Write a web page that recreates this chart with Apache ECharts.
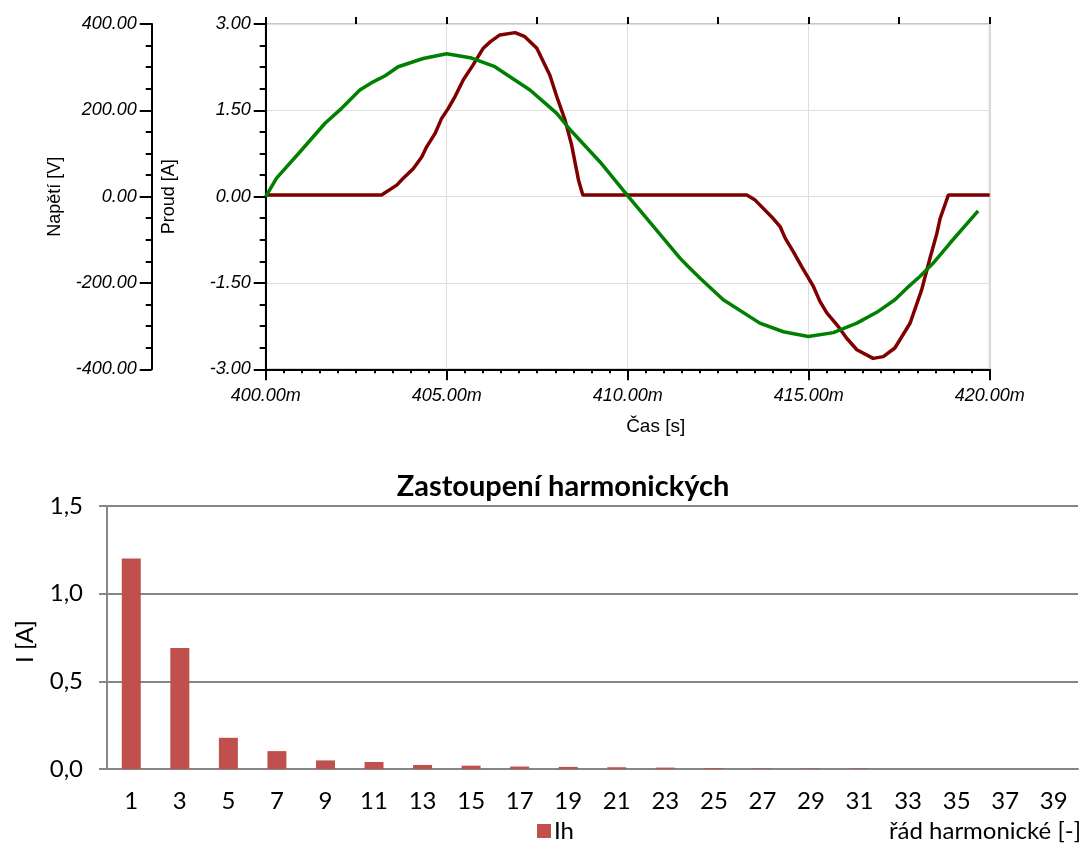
<!DOCTYPE html>
<html>
<head>
<meta charset="utf-8">
<script src="https://cdn.jsdelivr.net/npm/echarts@6/dist/echarts.min.js"></script>
<style>
  html, body { margin: 0; padding: 0; background: #fff; }
  #chart { width: 1085px; height: 843px; }
</style>
</head>
<body>
<div id="chart"></div>
<script>
// Time samples [ms] and supply voltage [V]
const voltTime = [400.0, 400.30, 400.95, 401.64, 402.05, 402.60, 402.97, 403.30, 403.66, 404.35,
  405.0, 405.69, 406.33, 407.30, 407.67, 408.04, 408.41, 409.23, 410.02, 411.45, 411.67, 412.0,
  412.64, 413.65, 414.30, 414.99, 415.68, 416.33, 416.88, 417.38, 417.71, 418.07, 418.44,
  418.90, 419.68];
const voltValues = [0, 43, 104, 170, 201, 247, 266, 280, 301, 320,
  331, 321, 301, 247, 220, 193, 155, 81, 0, -143, -162, -189,
  -239, -293, -313, -324, -315, -293, -268, -239, -212, -185, -154,
  -108, -33];

// Time samples [ms] and load current [A]
const currTime = [400.0, 403.20, 403.62, 403.80, 404.08, 404.31, 404.45, 404.68, 404.86, 405.04,
  405.23, 405.46, 405.73, 406.01, 406.20, 406.47, 406.89, 407.16, 407.49, 407.85, 408.04,
  408.27, 408.45, 408.64, 408.76, 413.29, 413.52, 414.02, 414.21, 414.35, 414.57, 414.81,
  415.13, 415.31, 415.50, 415.82, 416.05, 416.33, 416.78, 417.06, 417.38, 417.80, 418.12,
  418.35, 418.54, 418.63, 418.86, 420.0];
const currValues = [0.03, 0.03, 0.20, 0.32, 0.49, 0.69, 0.87, 1.10, 1.36, 1.53,
  1.74, 2.03, 2.29, 2.58, 2.69, 2.81, 2.85, 2.78, 2.58, 2.11, 1.74,
  1.33, 0.90, 0.29, 0.03, 0.03, -0.06, -0.38, -0.52, -0.72, -0.95, -1.22,
  -1.56, -1.82, -2.02, -2.26, -2.46, -2.66, -2.81, -2.78, -2.63, -2.20, -1.62,
  -1.07, -0.64, -0.38, 0.03, 0.03];

// Harmonic orders and amplitudes [A]
const harmOrders = ['1', '3', '5', '7', '9', '11', '13', '15', '17', '19',
  '21', '23', '25', '27', '29', '31', '33', '35', '37', '39'];
const harmValues = [1.2, 0.69, 0.178, 0.102, 0.049, 0.04, 0.023, 0.019, 0.014, 0.012,
  0.01, 0.008, 0.005, 0.003, 0.003, 0.003, 0, 0, 0, 0];

const pairs = (xs, ys) => xs.map((x, i) => [x, ys[i]]);

const topFont = 'Liberation Sans, Arial, sans-serif';
const botFont = 'Lato, Calibri, sans-serif';

const chart = echarts.init(document.getElementById('chart'), null, { renderer: 'canvas' });

chart.setOption({
  animation: false,
  backgroundColor: '#fff',
  title: {
    text: 'Zastoupení harmonických',
    left: 558, top: 467, textAlign: 'center',
    textStyle: { fontFamily: botFont, fontWeight: 'bold', fontSize: 29, color: '#000' }
  },
  legend: {
    data: ['Ih'],
    left: 532, top: 814,
    icon: 'rect', itemWidth: 14, itemHeight: 14, itemGap: 6,
    textStyle: { fontFamily: botFont, fontSize: 24, color: '#000', padding: [0, 0, 0, -2] }
  },
  grid: [
    { left: 265.7, right: 95.3, top: 24, bottom: 473.7, show: true,
      borderColor: '#c8c8c8', borderWidth: 2, backgroundColor: 'transparent' },
    { left: 107, right: 7, top: 506, bottom: 73 }
  ],
  xAxis: [
    {
      type: 'value', gridIndex: 0, min: 400, max: 420, interval: 5,
      name: 'Čas [s]', nameLocation: 'middle', nameGap: 48,
      nameTextStyle: { fontFamily: topFont, fontSize: 19, color: '#000', padding: [0, 0, 0, 56] },
      axisLine: { onZero: false, lineStyle: { color: '#000', width: 2 } },
      axisTick: { length: 11, lineStyle: { color: '#000', width: 2 } },
      minorTick: { show: true, splitNumber: 10, length: 4, lineStyle: { color: '#000', width: 2 } },
      axisLabel: {
        margin: 18, fontFamily: topFont, fontStyle: 'italic', fontSize: 18, color: '#000',
        formatter: v => v.toFixed(2) + 'm'
      },
      splitLine: { show: true, lineStyle: { color: '#dedede', width: 1 } }
    },
    {
      type: 'value', gridIndex: 0, min: 400, max: 420, interval: 2.5,
      axisLine: { show: false, onZero: false },
      axisTick: { length: 7, lineStyle: { color: '#000', width: 2 } },
      axisLabel: { show: false },
      splitLine: { show: false }
    },
    {
      type: 'category', gridIndex: 1, data: harmOrders,
      name: 'řád harmonické [-]', nameLocation: 'end', nameGap: 3,
      nameTextStyle: { fontFamily: botFont, fontSize: 24, color: '#000',
        align: 'right', verticalAlign: 'top', padding: [50, 0, 0, 0] },
      axisLine: { lineStyle: { color: '#868686', width: 2 } },
      axisTick: { length: 8, lineStyle: { color: '#868686', width: 2 } },
      axisLabel: { margin: 20, fontFamily: botFont, fontSize: 24, color: '#000' }
    }
  ],
  yAxis: [
    {
      type: 'value', gridIndex: 0, position: 'left', offset: 0,
      min: -3, max: 3, interval: 1.5,
      name: 'Proud [A]', nameLocation: 'middle', nameGap: 88,
      nameTextStyle: { fontFamily: topFont, fontSize: 18, color: '#000' },
      axisLine: { show: true, onZero: false, lineStyle: { color: '#000', width: 2 } },
      axisTick: { show: true, length: 12, lineStyle: { color: '#000', width: 2 } },
      minorTick: { show: true, splitNumber: 4, length: 6, lineStyle: { color: '#000', width: 2 } },
      axisLabel: {
        margin: 15, fontFamily: topFont, fontStyle: 'italic', fontSize: 18, color: '#000',
        formatter: v => v.toFixed(2)
      },
      splitLine: { show: true, lineStyle: { color: '#dedede', width: 1 } }
    },
    {
      type: 'value', gridIndex: 0, position: 'left', offset: 114,
      min: -400, max: 400, interval: 200,
      name: 'Napětí [V]', nameLocation: 'middle', nameGap: 88,
      nameTextStyle: { fontFamily: topFont, fontSize: 18, color: '#000' },
      axisLine: { show: true, onZero: false, lineStyle: { color: '#000', width: 2 } },
      axisTick: { show: true, length: 12, lineStyle: { color: '#000', width: 2 } },
      minorTick: { show: true, splitNumber: 4, length: 6, lineStyle: { color: '#000', width: 2 } },
      axisLabel: {
        margin: 15, fontFamily: topFont, fontStyle: 'italic', fontSize: 18, color: '#000',
        formatter: v => v.toFixed(2)
      },
      splitLine: { show: false }
    },
    {
      type: 'value', gridIndex: 1, min: 0, max: 1.5, interval: 0.5,
      name: 'I [A]', nameLocation: 'middle', nameGap: 70,
      nameTextStyle: { fontFamily: botFont, fontSize: 24, color: '#000', padding: [0, 0, 0, -8] },
      axisLine: { show: true, lineStyle: { color: '#868686', width: 2 } },
      axisTick: { show: true, length: 8, lineStyle: { color: '#868686', width: 2 } },
      axisLabel: {
        margin: 24, fontFamily: botFont, fontSize: 24, color: '#000',
        formatter: v => v.toFixed(1).replace('.', ',')
      },
      splitLine: { show: true, lineStyle: { color: '#868686', width: 2 } }
    }
  ],
  series: [
    {
      name: 'Proud', type: 'line', xAxisIndex: 0, yAxisIndex: 0,
      data: pairs(currTime, currValues),
      showSymbol: false, symbol: 'none',
      lineStyle: { color: '#800000', width: 3.5 }, z: 3
    },
    {
      name: 'Napětí', type: 'line', xAxisIndex: 0, yAxisIndex: 1,
      data: pairs(voltTime, voltValues),
      showSymbol: false, symbol: 'none',
      lineStyle: { color: '#008000', width: 3.5 }, z: 4
    },
    {
      name: 'Ih', type: 'bar', xAxisIndex: 2, yAxisIndex: 2,
      data: harmValues, barWidth: 19,
      itemStyle: { color: '#c0504d' }
    }
  ]
});
</script>
</body>
</html>
